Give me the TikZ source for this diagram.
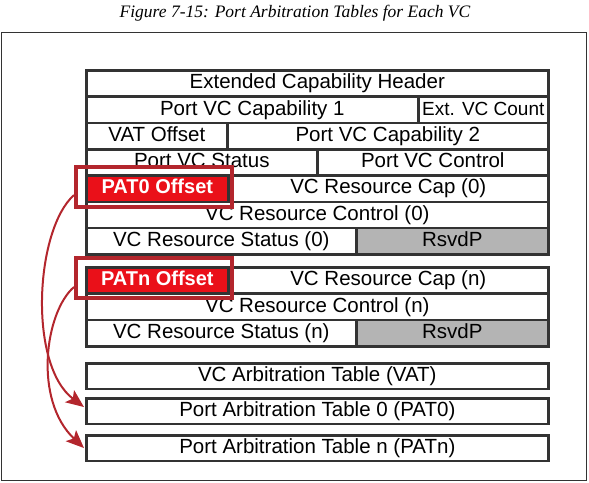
\documentclass[tikz,border=0pt]{standalone}
\usepackage{fontspec}
\setmainfont{Liberation Sans}
\newfontfamily\capfont{Liberation Serif}
\usepackage{tikz}
\usetikzlibrary{calc,arrows.meta,positioning}

\definecolor{tabgray}{HTML}{333333}
\definecolor{rsvdgray}{HTML}{B4B4B4}
\definecolor{patred}{HTML}{EA1019}
\definecolor{framered}{HTML}{B3262D}

\begin{document}
\begin{tikzpicture}[
  x=1pt, y=-1pt,
  cell/.style={draw=tabgray, line width=2.6pt, minimum height=26.3pt, inner sep=0pt,
    text height=15pt, text depth=4.5pt, anchor=north west, font=\fontsize{20.5}{20.5}\selectfont},
  tabrow/.style={cell, minimum height=25.5pt},
  rsvd/.style={cell, fill=rsvdgray},
  patcell/.style={cell, fill=patred, text=white, font=\fontsize{20}{20}\selectfont\bfseries},
  patframe/.style={draw=framered, line width=4pt, minimum width=156pt, minimum height=40pt, inner sep=0pt},
  patlink/.style={draw=framered, line width=2pt, -{Stealth[length=18pt, width=15pt, inset=4pt]}}
]
\useasboundingbox (0,0) rectangle (589,482);
% caption and outer frame
\node[font=\capfont\itshape\fontsize{17.5}{17.5}\selectfont] (caption) at (295,13) {Figure 7-15: Port Arbitration Tables for Each VC};
\node[draw=tabgray, line width=1.3pt, minimum width=585pt, minimum height=448pt, inner sep=0pt, anchor=north west] (outer) at (1,32) {};

% capability header
\node[cell, minimum width=462pt] (hdr) at (85,69) {Extended Capability Header};
\node[cell, minimum width=332pt] (cap1) at (85,95.3) {Port VC Capability 1};
\node[cell, minimum width=130pt, font=\fontsize{19}{19}\selectfont] (vccount) at (417,95.3) {Ext. VC Count};
\node[cell, minimum width=141pt] (vatoff) at (85,121.6) {VAT Offset};
\node[cell, minimum width=321pt] (cap2) at (226,121.6) {Port VC Capability 2};
\node[cell, minimum width=231pt] (status) at (85,147.9) {Port VC Status};
\node[cell, minimum width=231pt] (control) at (316,147.9) {Port VC Control};

% resources of VC0
\node[patcell, minimum width=142pt] (pat0off) at (85,174.2) {PAT0 Offset};
\node[cell, minimum width=320pt] (rescap0) at (227,174.2) {VC Resource Cap (0)};
\node[cell, minimum width=462pt] (resctl0) at (85,200.5) {VC Resource Control (0)};
\node[cell, minimum width=270pt] (resst0) at (85,226.8) {VC Resource Status (0)};
\node[rsvd, minimum width=192pt] (rsvd0) at (355,226.8) {RsvdP};

% resources of VCn
\node[patcell, minimum width=142pt] (patnoff) at (85,266) {PATn Offset};
\node[cell, minimum width=320pt] (rescapn) at (227,266) {VC Resource Cap (n)};
\node[cell, minimum width=462pt] (resctln) at (85,292.3) {VC Resource Control (n)};
\node[cell, minimum width=270pt] (resstn) at (85,318.6) {VC Resource Status (n)};
\node[rsvd, minimum width=192pt] (rsvdn) at (355,318.6) {RsvdP};

% arbitration tables
\node[tabrow, minimum width=462pt] (vattab) at (85,362) {VC Arbitration Table (VAT)};
\node[tabrow, minimum width=462pt] (pat0tab) at (85,397) {Port Arbitration Table 0 (PAT0)};
\node[tabrow, minimum width=462pt] (patntab) at (85,434) {Port Arbitration Table n (PATn)};

% highlight frames
\node[patframe] (pat0frame) at (154,187) {};
\node[patframe] (patnframe) at (154,278) {};

% offset pointers
\draw[patlink] ([yshift=-8pt]pat0frame.west) .. controls (35,230) and (28,365) .. ([xshift=-1pt,yshift=4pt]pat0tab.west);
\draw[patlink] ([yshift=-9pt]patnframe.west) .. controls (45,312) and (33,400) .. ([xshift=-1pt]patntab.west);
\end{tikzpicture}
\end{document}
